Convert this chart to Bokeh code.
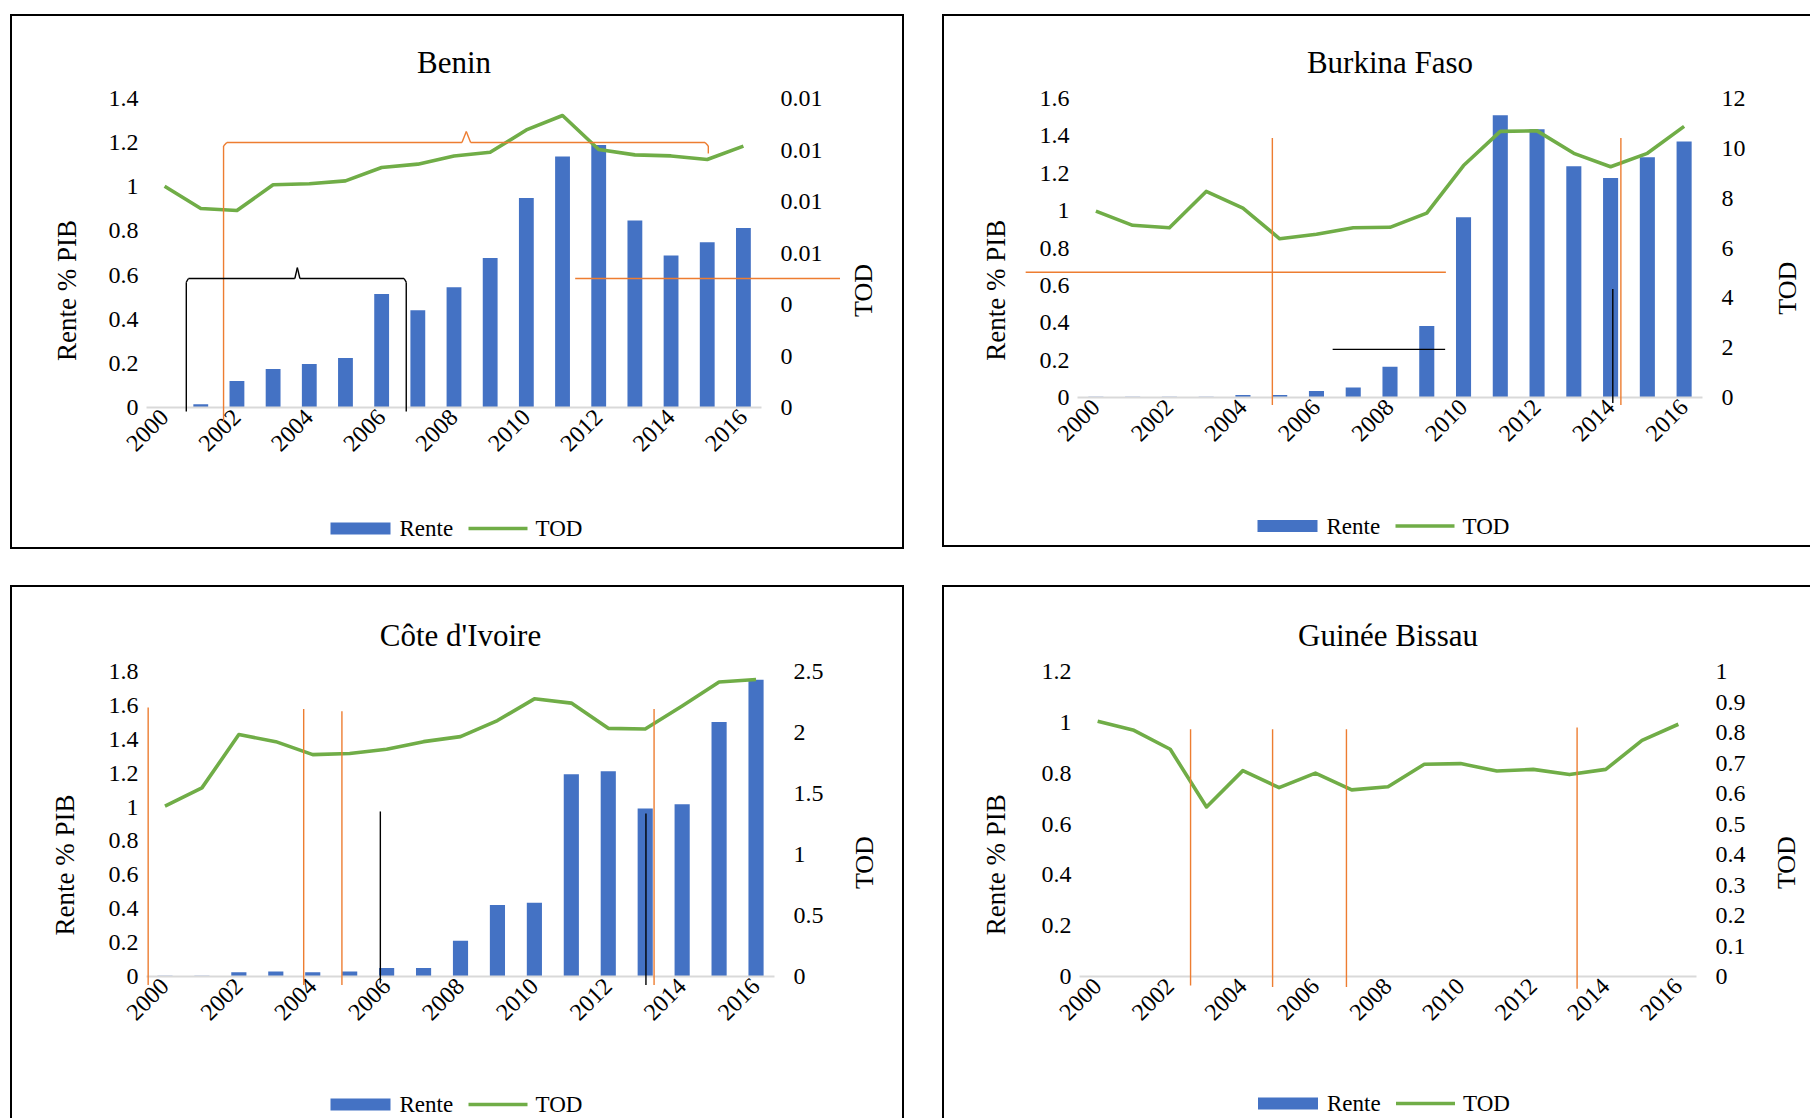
import math
from bokeh.plotting import figure
from bokeh.models import Range1d, LinearAxis, FixedTicker, NumeralTickFormatter
from bokeh.core.properties import value
from bokeh.layouts import row, column
from bokeh.embed import file_html
from bokeh.resources import INLINE

# ---------------- data ----------------
YEARS = [2000, 2001, 2002, 2003, 2004, 2005, 2006, 2007, 2008,
         2009, 2010, 2011, 2012, 2013, 2014, 2015, 2016]
X_TICKS = [2000, 2002, 2004, 2006, 2008, 2010, 2012, 2014, 2016]
LEGEND_LABELS = ["Rente", "TOD"]

BENIN_RENTE = [0.0, 0.015, 0.12, 0.174, 0.197, 0.224, 0.514, 0.441, 0.545,
               0.677, 0.949, 1.137, 1.189, 0.847, 0.689, 0.749, 0.813]
BENIN_TOD = [0.00859, 0.00773, 0.00765, 0.00865, 0.00869, 0.00880, 0.00932, 0.00945, 0.00977,
             0.00991, 0.01078, 0.01134, 0.01002, 0.00981, 0.00977, 0.00963, 0.01015]

BURKINA_RENTE = [0.004, 0.004, 0.004, 0.004, 0.013, 0.013, 0.035, 0.053, 0.164,
                 0.383, 0.965, 1.511, 1.436, 1.237, 1.175, 1.286, 1.370]
BURKINA_TOD = [7.48, 6.91, 6.81, 8.27, 7.60, 6.37, 6.55, 6.81, 6.83,
               7.40, 9.31, 10.68, 10.70, 9.80, 9.26, 9.80, 10.88]

CI_RENTE = [0.005, 0.005, 0.025, 0.03, 0.025, 0.03, 0.05, 0.05, 0.211,
            0.422, 0.435, 1.194, 1.211, 0.991, 1.016, 1.502, 1.751]
CI_TOD = [1.397, 1.546, 1.983, 1.925, 1.819, 1.828, 1.862, 1.925, 1.966,
          2.098, 2.276, 2.241, 2.034, 2.029, 2.218, 2.414, 2.434]

GB_RENTE = [0, 0, 0, 0, 0, 0, 0, 0, 0, 0, 0, 0, 0, 0, 0, 0, 0]
GB_TOD = [0.837, 0.807, 0.745, 0.556, 0.675, 0.619, 0.667, 0.612, 0.622,
          0.696, 0.698, 0.674, 0.679, 0.662, 0.679, 0.774, 0.827]

BENIN_LEFT_TICKS = [0, 0.2, 0.4, 0.6, 0.8, 1.0, 1.2, 1.4]
BENIN_RIGHT_TICKS = [0, 0.002, 0.004, 0.006, 0.008, 0.010, 0.012]
BURKINA_LEFT_TICKS = [0, 0.2, 0.4, 0.6, 0.8, 1.0, 1.2, 1.4, 1.6]
BURKINA_RIGHT_TICKS = [0, 2, 4, 6, 8, 10, 12]
CI_LEFT_TICKS = [0, 0.2, 0.4, 0.6, 0.8, 1.0, 1.2, 1.4, 1.6, 1.8]
CI_RIGHT_TICKS = [0, 0.5, 1.0, 1.5, 2.0, 2.5]
GB_LEFT_TICKS = [0, 0.2, 0.4, 0.6, 0.8, 1.0, 1.2]
GB_RIGHT_TICKS = [0, 0.1, 0.2, 0.3, 0.4, 0.5, 0.6, 0.7, 0.8, 0.9, 1.0]

# drawn annotation strokes (polylines, data units: year, left-axis value)
BENIN_ORANGE_BRACE_X = [2001.63, 2001.63, 2001.72, 2008.22, 2008.34, 2008.46, 2014.94, 2015.03, 2015.03]
BENIN_ORANGE_BRACE_Y = [-0.063, 1.185, 1.2007, 1.2007, 1.25, 1.2007, 1.2007, 1.185, 1.151]
BENIN_BLACK_BRACE_X = [2000.60, 2000.60, 2000.66, 2003.60, 2003.67, 2003.74, 2006.62, 2006.68, 2006.68]
BENIN_BLACK_BRACE_Y = [-0.018, 0.568, 0.5845, 0.5845, 0.634, 0.5845, 0.5845, 0.568, -0.018]
BENIN_ORANGE_LINE_X = [2011.35, 2018.67]
BENIN_ORANGE_LINE_Y = [0.5845, 0.5845]

BURKINA_ORANGE_V1_X = [2004.80, 2004.80]
BURKINA_ORANGE_V1_Y = [1.389, -0.040]
BURKINA_ORANGE_H_X = [1998.09, 2009.52]
BURKINA_ORANGE_H_Y = [0.670, 0.670]
BURKINA_BLACK_H_X = [2006.44, 2009.50]
BURKINA_BLACK_H_Y = [0.2575, 0.2575]
BURKINA_BLACK_V_X = [2014.06, 2014.06]
BURKINA_BLACK_V_Y = [0.580, -0.029]
BURKINA_ORANGE_V2_X = [2014.28, 2014.28]
BURKINA_ORANGE_V2_Y = [1.389, -0.040]

CI_ORANGE_V_X = [1999.545, 2003.755, 2004.79, 2013.24]
CI_ORANGE_V_TOP = [1.587, 1.578, 1.566, 1.578]
CI_ORANGE_V_BOTTOM = [-0.050, -0.050, -0.050, -0.050]
CI_BLACK_V_X = [2005.83, 2013.02]
CI_BLACK_V_TOP = [0.974, 0.962]
CI_BLACK_V_BOTTOM = [-0.041, -0.050]

GB_ORANGE_V_X = [2002.56, 2004.82, 2006.855, 2013.21]
GB_ORANGE_V_TOP = [0.973, 0.973, 0.973, 0.980]
GB_ORANGE_V_BOTTOM = [-0.035, -0.041, -0.041, -0.048]

BLUE = "#4472C4"
GREEN = "#70AD47"
ORANGE = "#ED7D31"
BLACK = "#000000"
FONT = "Liberation Serif"
X_START, X_END = 1999.5, 2016.5


def add_polyline(p, xs, ys, color):
    p.segment(x0=xs[:-1], y0=ys[:-1], x1=xs[1:], y1=ys[1:], line_color=color,
              line_width=1.4, level="overlay")


def add_verticals(p, xs, tops, bottoms, color):
    p.segment(x0=xs, y0=tops, x1=xs, y1=bottoms, line_color=color,
              line_width=1.4, level="overlay")


def style_axis(ax, standoff):
    ax.axis_line_color = None
    ax.major_tick_line_color = None
    ax.minor_tick_line_color = None
    ax.major_tick_out = 0
    ax.major_tick_in = 0
    ax.minor_tick_out = 0
    ax.minor_tick_in = 0
    ax.major_label_standoff = standoff
    ax.major_label_text_font = FONT
    ax.major_label_text_font_size = "24px"
    ax.major_label_text_color = BLACK


def add_legend(p, frame, ymax, offset):
    """Legend drawn below the axis: offset = (px from frame left, px below frame bottom)."""
    fw, fh = frame
    dx, dy = offset
    px = (X_END - X_START) / fw
    py = ymax / fh

    def X(pix):
        return X_START + (dx + pix) * px

    yc = -dy * py
    half = 6 * py
    p.quad(left=[X(0)], right=[X(60)], top=[yc + half], bottom=[yc - half],
           fill_color=BLUE, line_color=None, level="overlay")
    p.segment(x0=[X(138)], y0=[yc], x1=[X(197)], y1=[yc], line_color=GREEN,
              line_width=3.5, level="overlay")
    p.text(x=[X(69), X(205)], y=[yc, yc], text=LEGEND_LABELS, text_align="left",
           text_baseline="middle", text_font=value(FONT), text_font_size=value("23px"),
           text_color=BLACK, level="overlay")


def make_panel(title, rente, tod, ymax, left_ticks, tmax, right_ticks, right_fmt,
               frame, borders, lab_left, lab_right, legend_off, shadow, margin):
    fw, fh = frame
    bl, br, bt, bb = borders
    p = figure(frame_width=fw, frame_height=fh, x_range=Range1d(X_START, X_END),
               y_range=Range1d(0, ymax), output_backend="svg", toolbar_location=None,
               min_border_left=bl, min_border_right=br, min_border_top=bt,
               min_border_bottom=bb, border_fill_color=None, background_fill_color=None,
               outline_line_color=None)
    p.margin = margin
    p.styles = {"box-shadow": shadow}
    p.extra_y_ranges = {"tod": Range1d(0, tmax)}
    p.xgrid.visible = False
    p.ygrid.visible = False

    p.title.text = title
    p.title.align = "center"
    p.title.text_font = FONT
    p.title.text_font_size = "31px"
    p.title.text_font_style = "normal"
    p.title.text_color = BLACK
    p.title.standoff = 38

    p.vbar(x=YEARS, top=rente, width=0.41, fill_color=BLUE, line_color=None)
    p.line(YEARS, tod, line_width=3.6, line_color=GREEN, line_join="round",
           y_range_name="tod")

    xa = p.xaxis[0]
    style_axis(xa, 6)
    xa.ticker = FixedTicker(ticks=X_TICKS)
    xa.major_label_orientation = math.pi / 4
    xa.axis_line_color = "#d9d9d9"
    xa.axis_line_width = 2

    ya = p.yaxis[0]
    style_axis(ya, 8)
    ya.ticker = FixedTicker(ticks=left_ticks)
    ya.formatter = NumeralTickFormatter(format="0.[0]")

    ra = LinearAxis(y_range_name="tod", ticker=FixedTicker(ticks=right_ticks),
                    formatter=NumeralTickFormatter(format=right_fmt))
    style_axis(ra, 19)
    p.add_layout(ra, "right")

    p.text(x=[lab_left[0]], y=[lab_left[1]], text=["Rente % PIB"], angle=math.pi / 2,
           text_align="center", text_baseline="middle", text_font=value(FONT),
           text_font_size=value("27px"), text_color=BLACK, level="overlay")
    p.text(x=[lab_right[0]], y=[lab_right[1]], text=["TOD"], angle=math.pi / 2,
           text_align="center", text_baseline="middle", text_font=value(FONT),
           text_font_size=value("26px"), text_color=BLACK, level="overlay")

    add_legend(p, frame, ymax, legend_off)
    return p


p1 = make_panel("Benin", BENIN_RENTE, BENIN_TOD, 1.4, BENIN_LEFT_TICKS, 0.012,
                BENIN_RIGHT_TICKS, "0.[00]", (615, 309), (136, 143, 84, 142),
                (1997.30, 0.530), (2019.33, 0.530), (184, 121),
                "inset 0 0 0 2px #000", (14, 0, 0, 10))
add_polyline(p1, BENIN_ORANGE_BRACE_X, BENIN_ORANGE_BRACE_Y, ORANGE)
add_polyline(p1, BENIN_BLACK_BRACE_X, BENIN_BLACK_BRACE_Y, BLACK)
add_polyline(p1, BENIN_ORANGE_LINE_X, BENIN_ORANGE_LINE_Y, ORANGE)

p2 = make_panel("Burkina Faso", BURKINA_RENTE, BURKINA_TOD, 1.6, BURKINA_LEFT_TICKS, 12,
                BURKINA_RIGHT_TICKS, "0.[0]", (625, 299), (135, 108, 84, 150),
                (1997.28, 0.574), (2018.80, 0.585), (180, 128.5),
                "inset 2px 0 0 0 #000, inset 0 2px 0 0 #000, inset 0 -2px 0 0 #000",
                (14, 0, 0, 38))
add_polyline(p2, BURKINA_ORANGE_V1_X, BURKINA_ORANGE_V1_Y, ORANGE)
add_polyline(p2, BURKINA_ORANGE_H_X, BURKINA_ORANGE_H_Y, ORANGE)
add_polyline(p2, BURKINA_BLACK_H_X, BURKINA_BLACK_H_Y, BLACK)
add_polyline(p2, BURKINA_BLACK_V_X, BURKINA_BLACK_V_Y, BLACK)
add_polyline(p2, BURKINA_ORANGE_V2_X, BURKINA_ORANGE_V2_Y, ORANGE)

p3 = make_panel("Côte d'Ivoire", CI_RENTE, CI_TOD, 1.8, CI_LEFT_TICKS, 2.5,
                CI_RIGHT_TICKS, "0.[0]", (628, 305), (136, 130, 86, 142),
                (1997.30, 0.658), (2018.93, 0.672), (184, 128),
                "inset 2px 0 0 0 #000, inset 0 2px 0 0 #000, inset -2px 0 0 0 #000",
                (36, 0, 0, 10))
add_verticals(p3, CI_ORANGE_V_X, CI_ORANGE_V_TOP, CI_ORANGE_V_BOTTOM, ORANGE)
add_verticals(p3, CI_BLACK_V_X, CI_BLACK_V_TOP, CI_BLACK_V_BOTTOM, BLACK)

p4 = make_panel("Guinée Bissau", GB_RENTE, GB_TOD, 1.2, GB_LEFT_TICKS, 1.0,
                GB_RIGHT_TICKS, "0.[0]", (617, 305), (137, 114, 86, 142),
                (1997.20, 0.440), (2018.98, 0.448), (178.5, 127),
                "inset 2px 0 0 0 #000, inset 0 2px 0 0 #000",
                (36, 0, 0, 38))
add_verticals(p4, GB_ORANGE_V_X, GB_ORANGE_V_TOP, GB_ORANGE_V_BOTTOM, ORANGE)

layout = column(row(p1, p2, spacing=0), row(p3, p4, spacing=0), spacing=0)

open("out.html", "w").write(file_html(layout, INLINE))
